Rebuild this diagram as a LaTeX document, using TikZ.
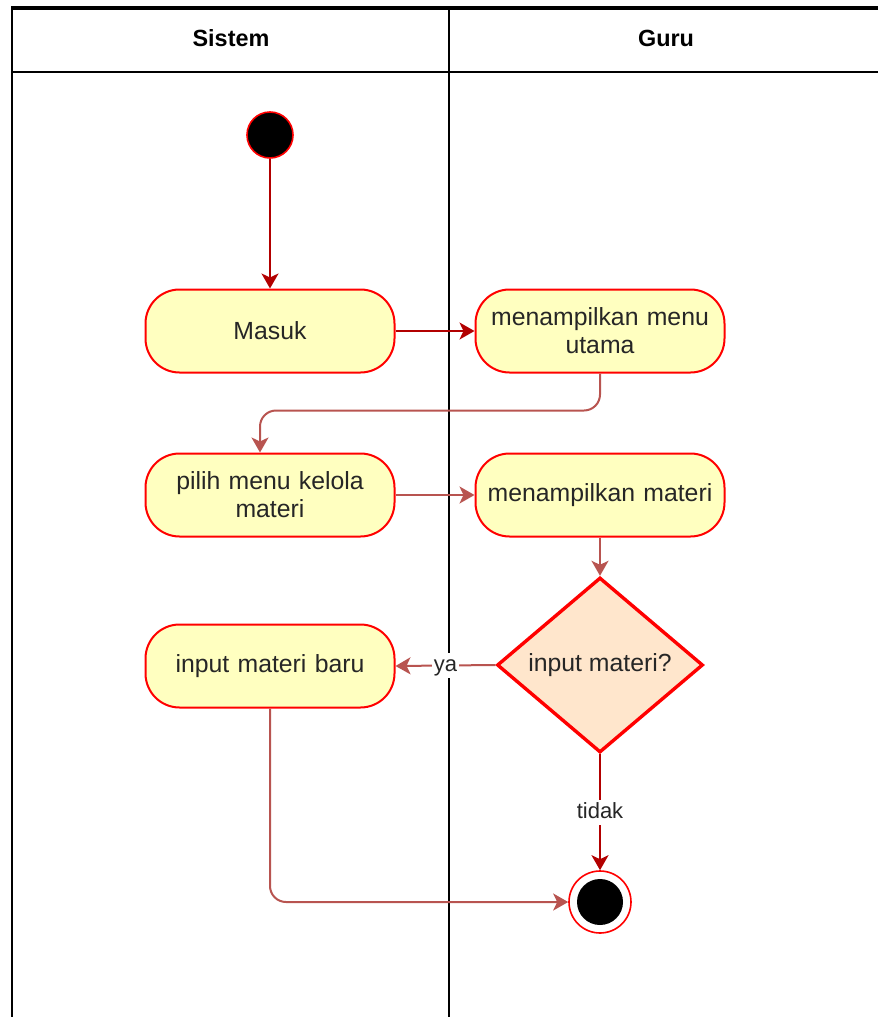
\documentclass[tikz,border=0pt]{standalone}
\usepackage{fontspec}
\setmainfont{Liberation Sans}
\usetikzlibrary{shapes.geometric, arrows.meta}
\definecolor{actfill}{HTML}{FFFFC0}
\definecolor{decfill}{HTML}{FFE6CC}
\definecolor{flowdark}{HTML}{B20000}
\definecolor{flowsoft}{HTML}{B85450}
\begin{document}
\begin{tikzpicture}[x=0.5pt, y=-0.5pt,
		every node/.style={font=\fontsize{12.4}{14}\selectfont, text=black!85},
		activity/.style={rectangle, rounded corners=17pt, draw=red, fill=actfill, line width=1pt, minimum width=124.5pt, minimum height=41.5pt, text width=118pt, align=center, inner sep=0pt},
		decision/.style={diamond, draw=red, fill=decfill, line width=1.7pt, minimum width=103pt, minimum height=87.5pt, inner sep=0pt},
		flow/.style={draw=flowdark, line width=1pt, -{Stealth[length=7.5pt, width=8.5pt, inset=2pt]}},
		flowsoft/.style={draw=flowsoft, line width=1pt, -{Stealth[length=7.5pt, width=8.5pt, inset=2pt]}},
		lbl/.style={fill=white, inner sep=1pt, text height=1.6ex, text depth=0.4ex, font=\fontsize{11}{13}\selectfont},
		lane/.style={font=\bfseries\fontsize{11.7}{14}\selectfont, text=black}]
	\useasboundingbox (0,0) rectangle (878,1017);
	% swimlanes
	\draw[line width=1pt] (12,1017) -- (12,8) -- (878,8);
	\draw[line width=2pt] (11,8) -- (878,8);
	\draw[line width=1pt] (12,72) -- (878,72);
	\draw[line width=0.9pt] (449,8) -- (449,1017);
	\node[lane] (sistem) at (231,38) {Sistem};
	\node[lane] (guru) at (666,38) {Guru};
	% nodes
	\node (start) [circle, fill=black, draw=red, line width=0.8pt, minimum size=23pt, inner sep=0pt] at (270,135) {};
	\node[activity] (masuk) at (270,331) {Masuk};
	\node[activity] (menu) at (600,331) {menampilkan menu\\utama};
	\node[activity] (pilih) at (270,495) {pilih menu kelola\\materi};
	\node[activity] (materi) at (600,495) {menampilkan materi};
	\node[decision, label=center:{input materi?}] (cek) at (600,665) {};
	\node[activity] (baru) at (270,666) {input materi baru};
	\node (end) [circle, draw=red, fill=white, line width=0.8pt, minimum size=31pt, inner sep=0pt] at (600,902) {};
	\fill (end.center) circle (11.5pt);
	% edges
	\draw[flow] (start) -- (masuk);
	\draw[flow] (masuk) -- (menu);
	\draw[flowsoft, rounded corners=8pt] (menu.south) -- ++(0,37) -| ([xshift=-5pt]pilih.north);
	\draw[flowsoft] (pilih) -- (materi);
	\draw[flowsoft] (materi) -- (cek);
	\draw[flowsoft] (cek.west) -- node[lbl] {ya} (baru.east);
	\draw[flow] (cek.south) -- node[lbl] {tidak} (end.north);
	\draw[flowsoft, rounded corners=8pt] (baru.south) |- (end.west);
\end{tikzpicture}
\end{document}
